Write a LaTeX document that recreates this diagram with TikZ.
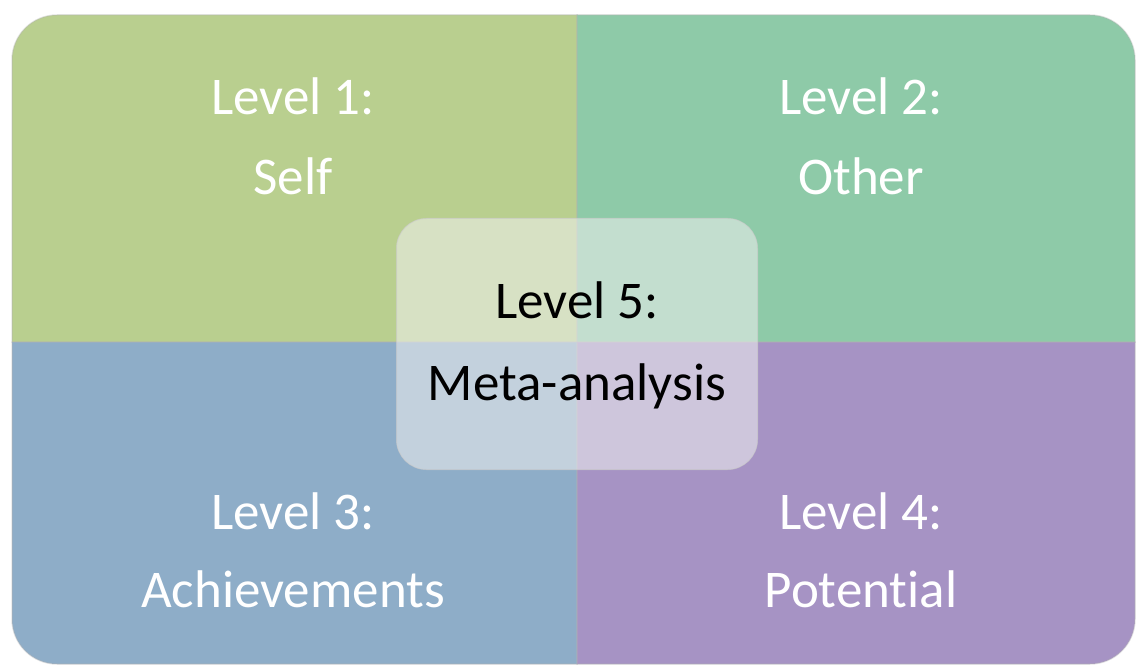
\documentclass[tikz,border=0pt]{standalone}
\usepackage{fontspec}
\setmainfont{Carlito}[Ligatures={NoCommon}]
\usepackage{tikz}
\usetikzlibrary{positioning}

\definecolor{selfgreen}{HTML}{B9CF8F}
\definecolor{othertea}{HTML}{8ECAA8}
\definecolor{achblue}{HTML}{8EADC8}
\definecolor{potpurple}{HTML}{A693C4}

\begin{document}
\begin{tikzpicture}[x=1pt,y=-1pt]
\tikzstyle{quad}=[draw=white!70!black,draw opacity=0.35,line width=1.5pt]
\tikzstyle{lbl}=[font=\fontsize{53}{64}\selectfont,text=white,anchor=base,inner sep=0pt]
\tikzstyle{metabox}=[rectangle,rounded corners=30pt,fill=white!94!black,fill opacity=0.55,draw=white!80!black,draw opacity=0.6,line width=1pt,minimum width=361pt,minimum height=251pt]
\useasboundingbox (0,0) rectangle (1137,668);
\fill[selfgreen,quad] (12,342) [rounded corners=45pt] -- (12,15) [sharp corners] -- (577,15) -- (577,342) -- cycle;
\fill[othertea,quad] (577,15) [rounded corners=45pt] -- (1135,15) [sharp corners] -- (1135,342) -- (577,342) -- cycle;
\fill[achblue,quad] (12,342) -- (577,342) -- (577,664) [rounded corners=45pt] -- (12,664) [sharp corners] -- cycle;
\fill[potpurple,quad] (577,342) -- (1135,342) [rounded corners=45pt] -- (1135,664) [sharp corners] -- (577,664) -- cycle;
\node[lbl] (lvlone) at (293,115) {Level 1:};
\node[lbl] (self) at (293,195) {Self};
\node[lbl] (lvltwo) at (861,115) {Level 2:};
\node[lbl] (other) at (861,195) {Other};
\node[lbl] (lvlthree) at (293,529) {Level 3:};
\node[lbl] (achieve) at (293,607) {Achievements};
\node[lbl] (lvlfour) at (861,529) {Level 4:};
\node[lbl] (potential) at (861,607) {Potential};
\node[metabox] (meta) at (577,344) {};
\node[lbl,text=black] (lvlfive) at (577,318) {Level 5:};
\node[lbl,text=black] (metaan) at (577,400) {Meta-analysis};
\end{tikzpicture}
\end{document}
